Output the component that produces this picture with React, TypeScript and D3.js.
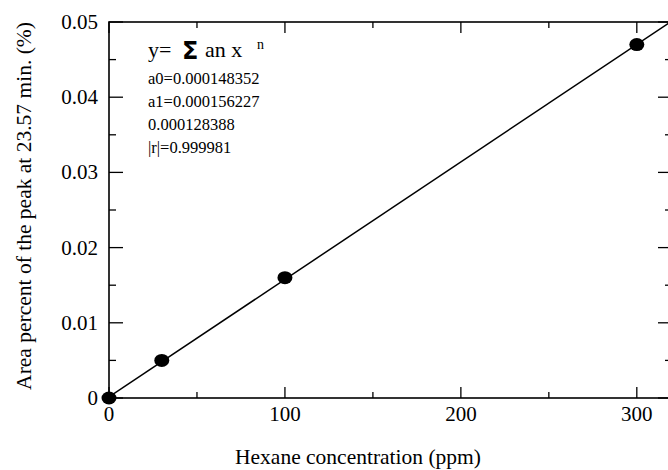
import * as React from 'react';
import * as d3 from 'd3';

// measured points
const concentration = [0, 30, 100, 300];
const areaPercent = [0, 0.005, 0.016, 0.047];

// fit coefficients (as printed on the chart)
const fitCoefs = [0.000148352, 0.000156227];
const fitLabels = ['a0=0.000148352', 'a1=0.000156227', '0.000128388', '|r|=0.999981'];

const xMajor = [0, 100, 200, 300];
const xMinor = [50, 150, 250];
const yMajor = [0, 0.01, 0.02, 0.03, 0.04, 0.05];
const yMinor = [0.005, 0.015, 0.025, 0.035, 0.045];

const W = 668;
const H = 470;
const left = 109, right = 672, top = 22, bottom = 398;
const serif = '"Liberation Serif", "Times New Roman", serif';

const App: React.FC = () => {
  const x = d3.scaleLinear().domain([0, 320]).range([left, right]);
  const y = d3.scaleLinear().domain([0, 0.05]).range([bottom, top]);

  const fitX = [0, 320];
  const line = d3.line<number>()
    .x(d => x(d))
    .y(d => y(fitCoefs[0] + fitCoefs[1] * d));

  const yFmt = (d: number) => (d === 0 ? '0' : d3.format('.2f')(d));

  return (
    <svg width={W} height={H} style={{ position: 'absolute', left: 0, top: 0, background: '#fff' }}>
      <defs>
        <clipPath id="plot">
          <rect x={left} y={top} width={right - left} height={bottom - top} />
        </clipPath>
      </defs>

      {/* frame */}
      <rect x={left} y={top} width={right - left} height={bottom - top} fill="none" stroke="#000" strokeWidth={1.6} />

      {/* ticks on all four sides, pointing inward */}
      <g stroke="#000" strokeWidth={1.3}>
        {xMajor.map(d => (
          <g key={'xm' + d}>
            <line x1={x(d)} x2={x(d)} y1={bottom} y2={bottom - 11} />
            <line x1={x(d)} x2={x(d)} y1={top} y2={top + 11} />
          </g>
        ))}
        {xMinor.map(d => (
          <g key={'xn' + d}>
            <line x1={x(d)} x2={x(d)} y1={bottom} y2={bottom - 6} />
            <line x1={x(d)} x2={x(d)} y1={top} y2={top + 6} />
          </g>
        ))}
        {yMajor.map(d => (
          <g key={'ym' + d}>
            <line x1={left} x2={left + 14} y1={y(d)} y2={y(d)} />
            <line x1={right} x2={right - 14} y1={y(d)} y2={y(d)} />
          </g>
        ))}
        {yMinor.map(d => (
          <g key={'yn' + d}>
            <line x1={left} x2={left + 7} y1={y(d)} y2={y(d)} />
            <line x1={right} x2={right - 7} y1={y(d)} y2={y(d)} />
          </g>
        ))}
      </g>

      {/* tick labels */}
      <g fontFamily={serif} fontSize={21} fill="#000">
        {xMajor.map(d => (
          <text key={'xl' + d} x={x(d)} y={bottom + 23} textAnchor="middle">{d}</text>
        ))}
        {yMajor.map(d => (
          <text key={'yl' + d} x={left - 11} y={y(d) + 7} textAnchor="end">{yFmt(d)}</text>
        ))}
      </g>

      {/* axis titles */}
      <text x={358} y={464} fontFamily={serif} fontSize={21.5} textAnchor="middle">Hexane concentration (ppm)</text>
      <text transform={`translate(31,${206}) rotate(-90)`} fontFamily={serif} fontSize={21.5} textAnchor="middle">
        Area percent of the peak at 23.57 min. (%)
      </text>

      {/* fit line */}
      <path d={line(fitX) || undefined} fill="none" stroke="#000" strokeWidth={1.5} clipPath="url(#plot)" />

      {/* points */}
      {concentration.map((c, i) => (
        <ellipse key={i} cx={x(c)} cy={y(areaPercent[i])} rx={7.5} ry={6.5} fill="#000" />
      ))}

      {/* equation box */}
      <g fontFamily={serif} fill="#000">
        <text x={148} y={57} fontSize={22}>y=</text>
        <text x={182} y={59} fontSize={24} fontFamily='"DejaVu Sans", sans-serif' fontWeight="bold">Σ</text>
        <text x={205} y={57} fontSize={22}>an x</text>
        <text x={257} y={49} fontSize={14}>n</text>
        {fitLabels.map((t, i) => (
          <text key={t} x={148} y={84 + i * 23} fontSize={16.5}>{t}</text>
        ))}
      </g>
    </svg>
  );
};

export default App;
